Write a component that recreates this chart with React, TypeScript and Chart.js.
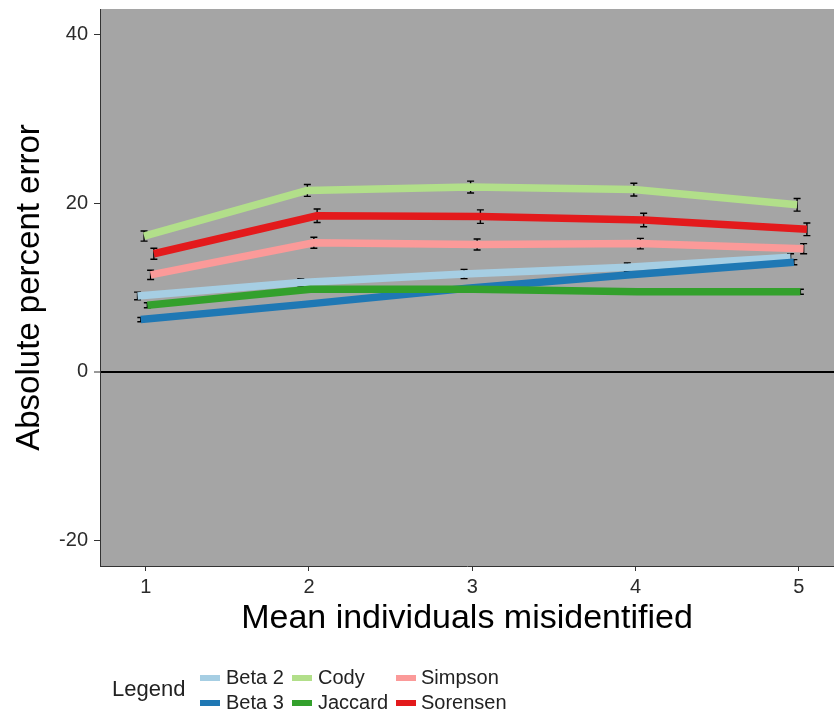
import { useEffect, useRef } from "react";
import { Chart, registerables } from "chart.js";

Chart.register(...registerables);

// Mean number of individuals misidentified (x positions of each group)
const misidentified = [1, 2, 3, 4, 5];

// Similarity indices, in drawing order
const seriesNames = ["Beta 2", "Beta 3", "Cody", "Jaccard", "Simpson", "Sorensen"];
const seriesColors = ["#a6cee3", "#1f78b4", "#b2df8a", "#33a02c", "#fb9a99", "#e31a1c"];

// Mean absolute percent error for each index
const beta2Mean = [9.0, 10.6, 11.6, 12.4, 13.6];
const beta3Mean = [6.2, 8.0, 9.9, 11.5, 13.0];
const codyMean = [16.1, 21.5, 21.9, 21.6, 19.8];
const jaccardMean = [7.9, 9.8, 9.8, 9.5, 9.5];
const simpsonMean = [11.5, 15.3, 15.1, 15.2, 14.6];
const sorensenMean = [14.0, 18.5, 18.4, 18.0, 16.9];

// Standard error for each mean
const beta2Se = [0.45, 0.45, 0.55, 0.5, 0.4];
const beta3Se = [0.25, 0.2, 0.2, 0.25, 0.3];
const codySe = [0.6, 0.7, 0.7, 0.75, 0.75];
const jaccardSe = [0.3, 0.2, 0.2, 0.2, 0.3];
const simpsonSe = [0.55, 0.65, 0.65, 0.62, 0.6];
const sorensenSe = [0.65, 0.8, 0.8, 0.8, 0.75];

const seriesMeans = [beta2Mean, beta3Mean, codyMean, jaccardMean, simpsonMean, sorensenMean];
const seriesSe = [beta2Se, beta3Se, codySe, jaccardSe, simpsonSe, sorensenSe];

// Horizontal dodge applied to each index so the error bars don't overlap
const dodgeOffsets = [-0.05, -0.03, -0.01, 0.01, 0.03, 0.05];

// Axis ticks and limits
const xTicks = [1, 2, 3, 4, 5];
const yTicks = [-20, 0, 20, 40];
const xLimits = [0.72, 5.216];
const yLimits = [-23, 43];

const FONT = "'Liberation Sans', Arial, Helvetica, sans-serif";

const panelBackground = {
  id: "panelBackground",
  beforeDraw(chart: any) {
    const { ctx, chartArea } = chart;
    ctx.save();
    ctx.fillStyle = "#a5a5a5";
    ctx.fillRect(chartArea.left, chartArea.top, chartArea.right - chartArea.left, chartArea.bottom - chartArea.top);
    ctx.restore();
  },
};

const errorBars = {
  id: "errorBars",
  beforeDatasetsDraw(chart: any) {
    const { ctx } = chart;
    const xs = chart.scales.x;
    const ys = chart.scales.y;
    ctx.save();
    ctx.strokeStyle = "#000";
    ctx.lineWidth = 1.4;
    chart.data.datasets.forEach((ds: any, i: number) => {
      const se = seriesSe[i];
      ds.data.forEach((pt: any, j: number) => {
        const px = xs.getPixelForValue(pt.x);
        const top = ys.getPixelForValue(pt.y + se[j]);
        const bot = ys.getPixelForValue(pt.y - se[j]);
        ctx.beginPath();
        ctx.moveTo(px, top);
        ctx.lineTo(px, bot);
        ctx.moveTo(px - 3.5, top);
        ctx.lineTo(px + 3.5, top);
        ctx.moveTo(px - 3.5, bot);
        ctx.lineTo(px + 3.5, bot);
        ctx.stroke();
      });
    });
    ctx.restore();
  },
};

const bottomLegend = {
  id: "bottomLegend",
  afterDraw(chart: any) {
    const { ctx } = chart;
    ctx.save();
    ctx.textBaseline = "middle";
    ctx.textAlign = "left";
    ctx.fillStyle = "#222";
    ctx.font = `22px ${FONT}`;
    ctx.fillText("Legend", 112, 690);
    const swatchX = [200, 292, 396];
    const textX = [226, 318, 421];
    const rowY = [678, 703];
    ctx.font = `20px ${FONT}`;
    seriesNames.forEach((name, i) => {
      const col = Math.floor(i / 2);
      const row = i % 2;
      ctx.fillStyle = seriesColors[i];
      ctx.fillRect(swatchX[col], rowY[row] - 3, 20, 6);
      ctx.fillStyle = "#222";
      ctx.fillText(name, textX[col], rowY[row]);
    });
    ctx.restore();
  },
};

export default function App() {
  const canvasRef = useRef<HTMLCanvasElement | null>(null);

  useEffect(() => {
    if (!canvasRef.current) return;
    Chart.defaults.font.family = FONT;

    const datasets = seriesNames.map((name, i) => ({
      label: name,
      data: misidentified.map((m, j) => ({ x: m + dodgeOffsets[i], y: seriesMeans[i][j] })),
      borderColor: seriesColors[i],
      backgroundColor: seriesColors[i],
      borderWidth: 7.5,
      borderCapStyle: "butt" as const,
      borderJoinStyle: "round" as const,
      pointRadius: 0,
      tension: 0,
      fill: false,
      order: seriesNames.length - i,
    }));

    const chart = new Chart(canvasRef.current, {
      type: "line",
      data: { datasets },
      options: {
        animation: false,
        responsive: false,
        events: [],
        layout: { padding: { top: 9, right: 0, bottom: 66, left: 0 } },
        plugins: {
          legend: { display: false },
          tooltip: { enabled: false },
        },
        scales: {
          x: {
            type: "linear",
            min: xLimits[0],
            max: xLimits[1],
            afterBuildTicks: (s: any) => {
              s.ticks = xTicks.map((v) => ({ value: v }));
            },
            afterFit: (s: any) => {
              s.height = 85;
              s.paddingLeft = 0;
              s.paddingRight = 0;
            },
            grid: { drawOnChartArea: false, tickLength: 5, tickColor: "#333", color: "#333", tickWidth: 1 },
            border: { display: true, color: "#333", width: 1 },
            ticks: {
              font: { size: 20 },
              color: "#2b2b2b",
              padding: 4,
              maxRotation: 0,
              autoSkip: false,
              callback: (v: any) => String(v),
            },
            title: {
              display: true,
              text: "Mean individuals misidentified",
              font: { size: 34 },
              color: "#000",
              padding: { top: 0, bottom: 12 },
            },
          },
          y: {
            type: "linear",
            min: yLimits[0],
            max: yLimits[1],
            afterBuildTicks: (s: any) => {
              s.ticks = yTicks.map((v) => ({ value: v }));
            },
            afterFit: (s: any) => {
              s.width = 100;
              s.paddingTop = 0;
              s.paddingBottom = 0;
            },
            grid: {
              drawOnChartArea: true,
              color: (c: any) => (c.tick && c.tick.value === 0 ? "#000" : "rgba(0,0,0,0)"),
              lineWidth: (c: any) => (c.tick && c.tick.value === 0 ? 2 : 1),
              tickLength: 6,
              tickColor: "#333",
              tickWidth: 1,
            },
            border: { display: true, color: "#333", width: 1 },
            ticks: {
              font: { size: 20 },
              color: "#2b2b2b",
              padding: 6,
              callback: (v: any) => String(v),
            },
            title: {
              display: true,
              text: "Absolute percent error",
              font: { size: 33 },
              color: "#000",
              padding: { top: 10, bottom: 0 },
            },
          },
        },
      },
      plugins: [panelBackground, errorBars, bottomLegend],
    });

    return () => chart.destroy();
  }, []);

  return (
    <div style={{ position: "absolute", left: 0, top: 0, width: 834, height: 717, background: "#fff" }}>
      <canvas ref={canvasRef} width={834} height={717} />
    </div>
  );
}
